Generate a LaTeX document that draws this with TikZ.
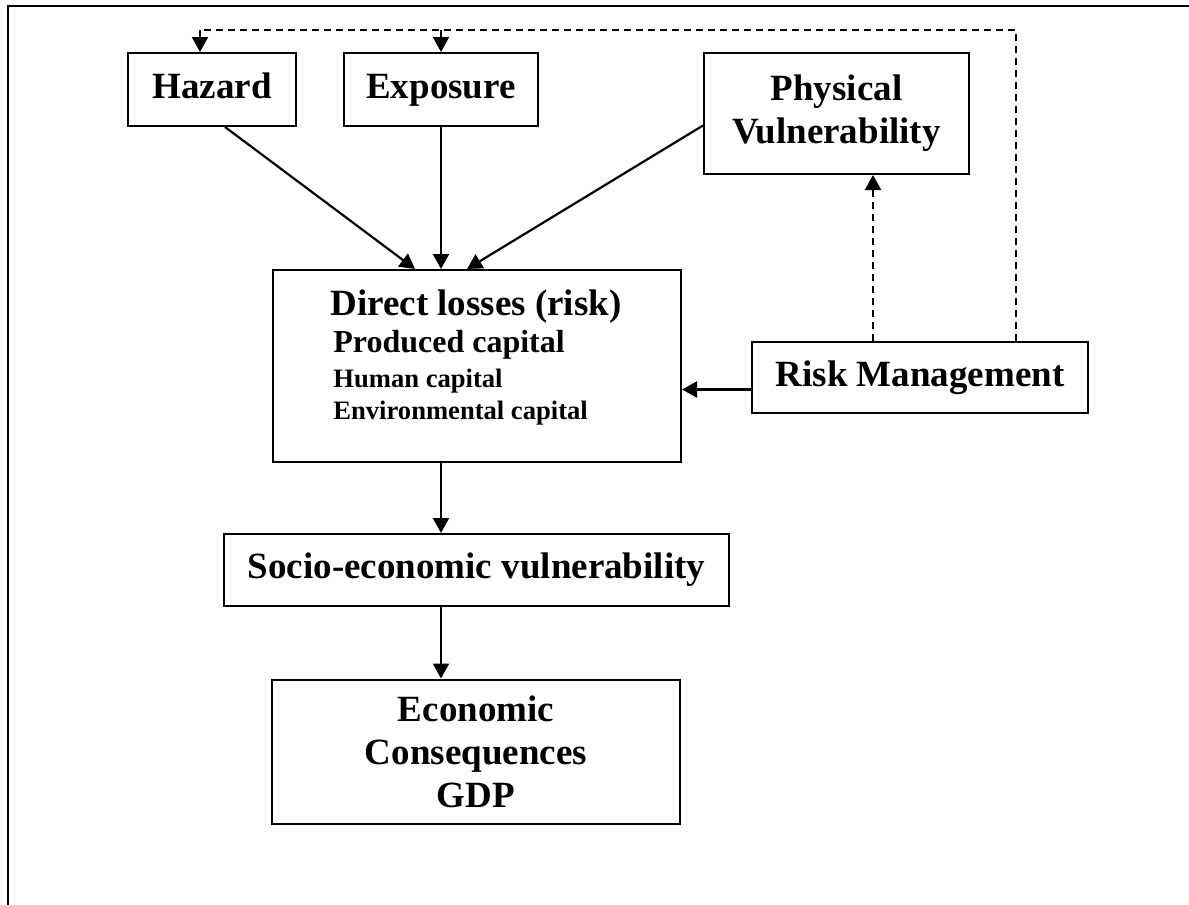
\documentclass[tikz,border=0pt]{standalone}
\usepackage{fontspec}
\setmainfont{Liberation Serif}
\usepackage{tikz}
\usetikzlibrary{arrows.meta}

\begin{document}
\begin{tikzpicture}[
		x=0.5pt, y=-0.5pt
		,box/.style={draw, line width=1pt, inner sep=0pt, align=center, font=\fontsize{18.5}{21.5}\selectfont\bfseries}
		,arr/.style={line width=1.1pt, -{Triangle[length=7.5pt,width=8pt]}}
		,darr/.style={arr, dash pattern=on 3.5pt off 2.5pt}
		,dline/.style={line width=1pt, dash pattern=on 3.5pt off 2.5pt}
	]
	\useasboundingbox (0,0) rectangle (1189,905);
	\draw [line width=1.2pt] (8,905) -- (8,6) -- (1189,6);

	\node [box, minimum width=84pt, minimum height=36.5pt] (haz) at (212,89.5) {Hazard\strut};
	\node [box, minimum width=97pt, minimum height=36.5pt] (expo) at (441,89.5) {Exposure\strut};
	\node [box, minimum width=132.5pt, minimum height=60.5pt] (phys) at (836.5,113.5) {Physical\\Vulnerability};
	\node [box, minimum width=204pt, minimum height=96pt] (direct) at (477,366) {};
	\node [anchor=north west, inner sep=0pt, align=left] (directtxt) at (330,289)
		{\fontsize{18.5}{21.5}\selectfont\bfseries Direct losses (risk)\\[2.5pt]
		\fontsize{16}{18.5}\selectfont\bfseries\hspace{1.5pt}Produced capital\\[4pt]
		\fontsize{13.3}{16.5}\selectfont\bfseries\hspace{1.5pt}Human capital\\[3.2pt]
		\fontsize{13.3}{15}\selectfont\bfseries\hspace{1.5pt}Environmental capital};
	\node [box, minimum width=168pt, minimum height=35.5pt] (risk) at (920,377.5) {Risk Management\strut};
	\node [box, minimum width=252.5pt, minimum height=36pt] (socio) at (476.5,570) {Socio-economic vulnerability\strut};
	\node [box, minimum width=204pt, minimum height=72pt] (econ) at (476,751.5) {Economic\\Consequences\\GDP};

	\coordinate (fb) at (1016,30);
	\coordinate (hz) at ([xshift=-6pt]haz.north);

	\draw [arr] ([xshift=6.5pt]haz.south) -- ([xshift=-31pt]direct.north);
	\draw [arr] (expo.south) -- (expo.south |- direct.north);
	\draw [arr] ([yshift=-6pt]phys.west) -- ([xshift=-5pt]direct.north);
	\draw [arr] ([yshift=-6pt]risk.west) -- ([yshift=-6pt]risk.west -| direct.east);
	\draw [darr] ([xshift=-23.5pt]risk.north) -- ([xshift=-23.5pt]risk.north |- phys.south);
	\draw [dline] ([xshift=48pt]risk.north) |- (hz |- fb);
	\draw [arr] (hz |- fb) -- (hz);
	\draw [arr] (expo.north |- fb) -- (expo.north);
	\draw [arr] (direct.south -| expo.south) -- (socio.north -| expo.south);
	\draw [arr] (socio.south -| expo.south) -- (econ.north -| expo.south);
\end{tikzpicture}
\end{document}
